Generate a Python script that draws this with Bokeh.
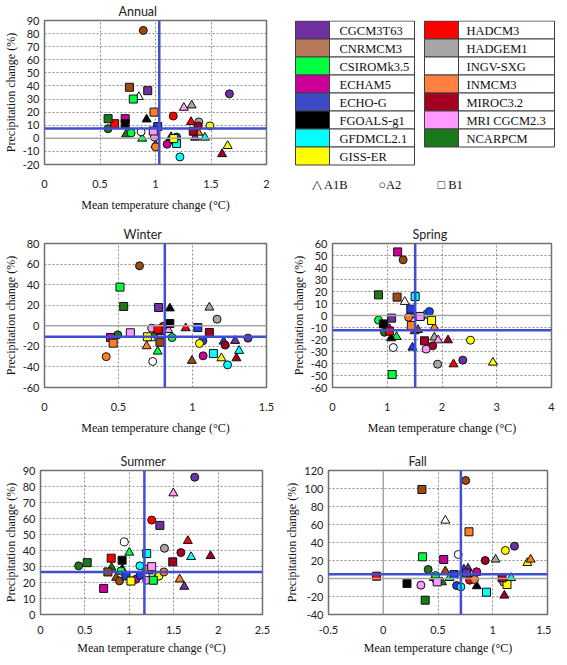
from bokeh.plotting import figure
from bokeh.layouts import column, row
from bokeh.models import Range1d, FixedTicker, Span, ColumnDataSource
from bokeh.core.properties import value
from bokeh.embed import file_html
from bokeh.resources import INLINE

MODELS = ["CGCM3T63", "CNRMCM3", "CSIROMk3.5", "ECHAM5", "ECHO-G", "FGOALS-g1", "GFDMCL2.1", "GISS-ER",
          "HADCM3", "HADGEM1", "INGV-SXG", "INMCM3", "MIROC3.2", "MRI CGCM2.3", "NCARPCM"]
MARKER_COLORS = ["#7030A0", "#9C4A10", "#00FF40", "#CC0099", "#1F3FE8", "#000000", "#00FFFF", "#FFFF00",
                 "#FF0000", "#A6A6A6", "#FFFFFF", "#FF7F27", "#A50021", "#FF99FF", "#1A7A1A"]
SWATCH_COLORS = ["#7030A0", "#B8785A", "#00FF40", "#CC0099", "#3C4BC8", "#000000", "#00FFFF", "#FFFF00",
                 "#FF0000", "#A6A6A6", "#FFFFFF", "#FF8040", "#A50021", "#FF99FF", "#1A7A1A"]
SCENARIOS = ["A1B", "A2", "B1"]
N = None

# ---------------- Annual ----------------
ANN_A1B_X = [1.356, 1.00, 0.88, 1.12, 1.14, 0.92, 1.445, 1.65, 1.32, 1.326, 0.85, 1.385, 1.60, 1.255, 0.735]
ANN_A1B_Y = [0.6, -5.0, -0.2, -2.0, 1.0, 14.5, 0.6, -5.8, 12.5, 25.2, 31.6, 4.4, -12.0, 23.4, 3.1]
ANN_A2_X = [1.666, 0.89, 0.78, 1.105, 1.19, N, 1.22, 1.49, 1.16, 1.39, 0.87, 1.00, 1.385, 0.99, 0.573]
ANN_A2_Y = [34.0, 82.4, 4.1, -4.5, 1.0, N, -14.2, 9.5, 17.0, 12.5, 5.0, -6.5, 9.5, 1.0, 7.4]
ANN_B1_X = [0.93, 0.765, 0.80, 0.727, 1.02, 0.727, 1.19, 1.164, 0.632, N, N, 0.987, 1.34, 0.98, 0.573]
ANN_B1_Y = [36.4, 39.0, 30.0, 15.0, 9.0, 11.2, -4.0, -0.2, 11.2, N, N, 20.0, 5.4, 5.6, 15.0]

# ---------------- Winter ----------------
WIN_A1B_X = [1.288, 0.996, 0.765, 0.78, 1.21, 0.847, 1.315, 1.195, 0.954, 1.114, 0.72, 0.69, 1.297, 0.836, 0.74]
WIN_A1B_Y = [-14.6, -34.0, -25.0, -6.0, -15.3, 17.0, -24.3, -31.5, -2.3, 17.8, -12.0, -19.8, -31.5, -4.0, -8.8]
WIN_A2_X = [1.375, 0.642, 0.862, 1.072, 1.07, N, 1.237, 1.047, 0.802, 1.166, 0.731, 0.417, 1.221, 0.724, 0.495]
WIN_A2_Y = [-12.0, 58.3, -11.4, -29.2, -14.6, N, -38.0, -17.2, -0.5, 6.4, -34.7, -30.0, -18.8, -2.3, -8.8]
WIN_B1_X = [0.771, 0.78, 0.51, 0.446, 1.036, 0.847, 1.141, 0.695, 0.767, N, N, 0.464, 1.114, 0.58, 0.535]
WIN_B1_Y = [17.8, -16.0, 37.6, -11.4, -1.7, 2.2, -27.0, -10.7, -3.3, N, N, -16.9, -6.5, -6.8, 18.8]

# ---------------- Spring ----------------
SPR_A1B_X = [1.50, 1.56, 1.17, 1.02, 1.46, 1.07, 1.68, 2.93, 2.21, 1.86, 1.32, 1.86, 2.11, 1.93, 0.97]
SPR_A1B_Y = [-13.0, -12.0, -17.8, -12.0, -26.7, -18.9, 0.0, -39.2, -40.6, -18.3, 11.4, -10.0, -20.6, -20.6, -13.0]
SPR_A2_X = [2.38, 1.29, 0.84, 1.00, 1.77, N, 1.62, 2.52, 1.45, 1.92, 1.11, 1.39, 1.83, 1.71, 0.95]
SPR_A2_Y = [-37.2, 46.4, -3.9, -10.0, 3.3, N, -1.0, -20.6, 1.0, -40.6, -26.7, -1.4, -25.3, -28.0, -14.0]
SPR_B1_X = [1.08, 1.18, 1.09, 1.19, 1.43, 0.93, 1.51, 1.81, 1.04, N, N, 1.44, 1.68, 1.60, 0.84]
SPR_B1_Y = [-2.2, 15.3, -49.2, 53.0, 5.3, -7.0, 15.8, -4.2, -13.0, N, N, -8.3, -21.1, -0.8, 17.2]

# ---------------- Summer ----------------
SUM_A1B_X = [1.619, 0.852, 1.00, 1.11, 1.167, 0.92, 1.696, 1.304, 1.659, 1.22, 1.185, 1.567, 1.915, 1.496, 0.80]
SUM_A1B_Y = [17.4, 23.0, 38.7, 24.0, 26.2, 28.3, 36.0, 23.4, 46.0, 27.0, 25.0, 22.0, 36.6, 75.8, 29.3]
SUM_A2_X = [1.737, 0.889, 0.907, 1.074, 1.12, N, 1.119, 1.333, 1.252, 1.396, 0.944, 1.389, 1.581, 1.196, 0.43]
SUM_A2_Y = [85.8, 21.0, 27.2, 22.0, 24.5, N, 30.4, 24.0, 59.0, 41.4, 45.4, 26.6, 38.7, 21.4, 30.4]
SUM_B1_X = [1.344, 0.759, 1.27, 0.711, 0.963, 0.919, 1.196, 1.019, 0.796, N, N, 1.204, 1.489, 1.252, 0.526]
SUM_B1_Y = [55.7, 26.6, 21.4, 16.3, 24.1, 33.9, 38.1, 20.9, 35.2, N, N, 28.3, 32.9, 29.9, 32.4]

# ---------------- Fall ----------------
FAL_A1B_X = [0.774, 0.567, 0.605, 0.848, 0.736, 0.854, 1.168, 1.316, 0.463, 1.026, 0.567, 1.346, 1.106, 0.49, 0.537]
FAL_A1B_Y = [11.1, 8.1, 0.7, 6.3, 10.0, -8.5, 0.7, 17.4, 0.7, 21.1, 64.4, 21.1, -18.9, -1.0, -4.1]
FAL_A2_X = [1.198, 0.753, 0.478, 0.854, 0.67, N, 0.709, 1.115, 0.789, 1.10, 0.685, 0.833, 0.931, 0.344, 0.41]
FAL_A2_Y = [35.9, 108.9, 3.3, 7.4, -7.8, N, -9.3, 31.1, -1.9, -4.1, 26.7, -1.1, 20.0, -7.4, 10.0]
FAL_B1_X = [0.76, 0.353, 0.359, 0.552, 0.647, 0.217, 0.943, 1.13, -0.061, N, N, 0.783, 1.085, 0.493, 0.383]
FAL_B1_Y = [6.0, 98.9, 24.1, 21.1, 4.4, -5.6, -15.2, -6.7, 2.6, N, N, 51.9, 0.7, -3.7, -24.1]

# ensemble mean reference lines (temperature, precipitation)
PANELS = ["Annual", "Winter", "Spring", "Summer", "Fall"]
MEAN_T = [1.034, 0.813, 1.51, 1.17, 0.709]
MEAN_P = [7.5, -10.7, -12.2, 26.6, 4.8]

X_RANGES = [(0, 2), (0, 1.5), (0, 4), (0, 2.5), (-0.5, 1.5)]
Y_RANGES = [(-20, 90), (-60, 80), (-60, 60), (0, 90), (-40, 120)]
X_TICKS = [[0, 0.5, 1, 1.5, 2], [0, 0.5, 1, 1.5], [0, 1, 2, 3, 4], [0, 0.5, 1, 1.5, 2, 2.5], [-0.5, 0, 0.5, 1, 1.5]]
Y_TICKS = [list(range(-20, 91, 10)), list(range(-60, 81, 20)), list(range(-60, 61, 10)),
           list(range(0, 91, 10)), list(range(-40, 121, 20))]

PANEL_DATA = [
    (ANN_A1B_X, ANN_A1B_Y, ANN_A2_X, ANN_A2_Y, ANN_B1_X, ANN_B1_Y),
    (WIN_A1B_X, WIN_A1B_Y, WIN_A2_X, WIN_A2_Y, WIN_B1_X, WIN_B1_Y),
    (SPR_A1B_X, SPR_A1B_Y, SPR_A2_X, SPR_A2_Y, SPR_B1_X, SPR_B1_Y),
    (SUM_A1B_X, SUM_A1B_Y, SUM_A2_X, SUM_A2_Y, SUM_B1_X, SUM_B1_Y),
    (FAL_A1B_X, FAL_A1B_Y, FAL_A2_X, FAL_A2_Y, FAL_B1_X, FAL_B1_Y),
]

SANS = "Lato"
SERIF = "Liberation Serif"
MARKERS = {"A1B": ("triangle", 9), "A2": ("circle", 8), "B1": ("square", 8)}


def fmt(v):
    return ("%g" % v)


def make_panel(i, fw, fh, bl, br, bt, bb, tick_std, lab_std, title_off):
    xr, yr = X_RANGES[i], Y_RANGES[i]
    p = figure(frame_width=fw, frame_height=fh, x_range=Range1d(*xr), y_range=Range1d(*yr),
               output_backend="svg", toolbar_location=None,
               min_border_left=bl, min_border_right=br, min_border_top=bt, min_border_bottom=bb,
               background_fill_color="white", border_fill_color="white")
    p.title.text = PANELS[i]
    p.title.align = "left"
    p.title.offset = title_off
    p.title.text_font = SANS
    p.title.text_font_size = "12.5px"
    p.title.text_font_style = "normal"
    p.title.text_color = "#222222"
    p.title.standoff = 3

    p.outline_line_color = "#707070"
    p.outline_line_width = 1.5

    for ax, ticks in ((p.xaxis[0], X_TICKS[i]), (p.yaxis[0], Y_TICKS[i])):
        ax.ticker = FixedTicker(ticks=ticks)
        ax.major_label_overrides = {t: fmt(t) for t in ticks}
        ax.minor_tick_line_color = None
        ax.major_tick_line_color = None
        ax.major_tick_out = 0
        ax.major_tick_in = 0
        ax.axis_line_color = None
        ax.major_label_text_font = SANS
        ax.major_label_text_font_size = "11px"
        ax.major_label_text_color = "#222222"
        ax.axis_label_text_font = SERIF
        ax.axis_label_text_font_size = "12px"
        ax.axis_label_text_font_style = "normal"
        ax.axis_label_text_color = "#111111"
    p.xaxis.axis_label = "Mean temperature change (\u00b0C)"
    p.yaxis.axis_label = "Precipitation change (%)"
    p.xaxis.major_label_standoff = tick_std
    p.yaxis.major_label_standoff = 5
    p.xaxis.axis_label_standoff = lab_std
    p.yaxis.axis_label_standoff = 2

    p.xgrid.ticker = FixedTicker(ticks=X_TICKS[i])
    p.ygrid.ticker = FixedTicker(ticks=Y_TICKS[i])
    p.grid.grid_line_color = "#8c8c8c"
    p.grid.grid_line_dash = "2 2"
    p.grid.grid_line_width = 1

    # axis lines crossing at zero
    if yr[0] < 0 < yr[1]:
        p.add_layout(Span(location=0, dimension="width", line_color="#a6a6a6", line_width=1.5))
    if xr[0] < 0 < xr[1]:
        p.add_layout(Span(location=0, dimension="height", line_color="#a6a6a6", line_width=1.5))

    data = PANEL_DATA[i]
    for s, sc in enumerate(SCENARIOS):
        xs, ys = data[2 * s], data[2 * s + 1]
        px, py, pc = [], [], []
        for k in range(len(MODELS)):
            if xs[k] is None or ys[k] is None:
                continue
            px.append(xs[k]); py.append(ys[k]); pc.append(MARKER_COLORS[k])
        src = ColumnDataSource(dict(x=px, y=py, c=pc))
        marker, size = MARKERS[sc]
        p.scatter("x", "y", source=src, marker=marker, size=size, fill_color="c",
                  line_color="#111111", line_width=1)

    p.add_layout(Span(location=MEAN_T[i], dimension="height", line_color="#3F4FCF", line_width=2.5))
    p.add_layout(Span(location=MEAN_P[i], dimension="width", line_color="#3F4FCF", line_width=2.5))
    return p


def make_legend(width, height):
    p = figure(frame_width=width, frame_height=height, title=None,
               x_range=Range1d(0, width), y_range=Range1d(height, 0),
               output_backend="svg", toolbar_location=None, x_axis_type=None, y_axis_type=None,
               min_border=0, min_border_left=0, min_border_right=0, min_border_top=0, min_border_bottom=0)
    p.outline_line_color = None
    p.grid.visible = False
    row_h = 18
    top0 = 0.5
    boxes = [(0, 8, 21, 34, 85), (8, 15, 150, 34, 96)]
    sl, sr, nl, nr, tp, bt, cols, tx, ty, names = [], [], [], [], [], [], [], [], [], []
    for (a, b, left, sw, nw) in boxes:
        for r, k in enumerate(range(a, b)):
            t = top0 + r * row_h
            sl.append(left); sr.append(left + sw); nl.append(left + sw); nr.append(left + sw + nw)
            tp.append(t); bt.append(t + row_h); cols.append(SWATCH_COLORS[k])
            tx.append(left + sw + (10 if a == 0 else 8)); ty.append(t + row_h / 2 + 1)
            names.append(MODELS[k])
    p.quad(left=sl, right=sr, top=tp, bottom=bt, fill_color=cols, line_color="#404040", line_width=1)
    p.quad(left=nl, right=nr, top=tp, bottom=bt, fill_color="white", line_color="#404040", line_width=1)
    p.text(x=tx, y=ty, text=names, text_font=value(SERIF), text_font_size="12.5px",
           text_baseline="middle", text_align="left", text_color="#111111")
    p.text(x=[37, 104, 163], y=[164, 164, 164], text=["\u25b3 A1B", "\u25cbA2", "\u25a1 B1"],
           text_font=value(SERIF), text_font_size="12.5px", text_baseline="middle",
           text_align="left", text_color="#111111")
    return p


annual = make_panel(0, 222, 144, 40, 8, 12, 55, 15, 7, 74)
legend = make_legend(281, 190)
winter = make_panel(1, 222, 144, 40, 8, 24, 55, 15, 7, 79)
spring = make_panel(2, 219, 144, 58, 4, 24, 55, 15, 7, 80)
summer = make_panel(3, 222, 144, 40, 8, 28, 43, 11, 4, 80)
fall = make_panel(4, 219, 144, 58, 4, 28, 43, 11, 4, 80)

layout = column(row(annual, legend), row(winter, spring), row(summer, fall))
open("out.html", "w").write(file_html(layout, INLINE))
